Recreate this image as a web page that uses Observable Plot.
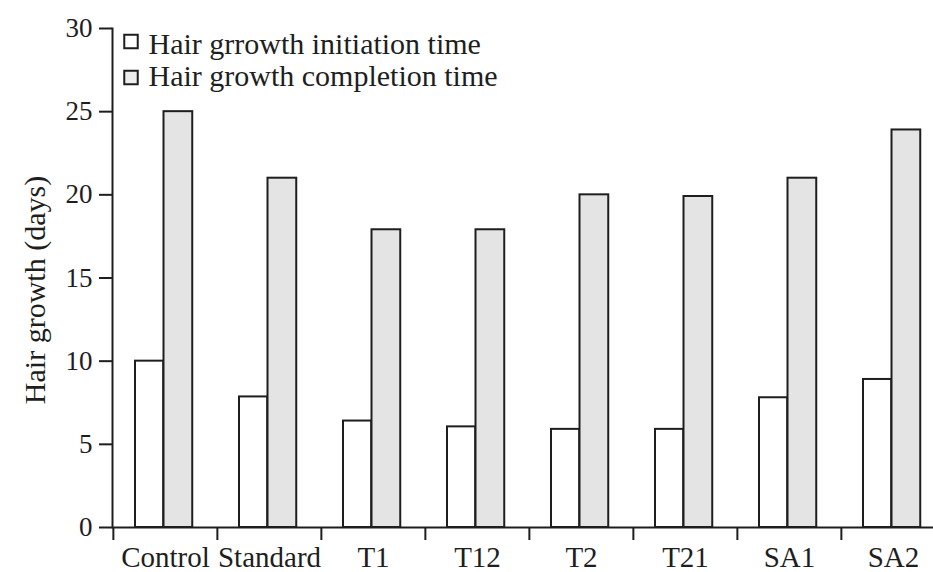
<!DOCTYPE html>
<html>
<head>
<meta charset="utf-8">
<script src="https://cdn.jsdelivr.net/npm/d3@7"></script>
<script src="https://cdn.jsdelivr.net/npm/@observablehq/plot@0.6"></script>
<style>
  html, body { margin: 0; padding: 0; background: white; overflow: hidden; }
  #chart { width: 933px; height: 572px; overflow: hidden; }
  #chart svg, #chart svg text { font-family: "Liberation Serif", "Times New Roman", Times, serif !important; }
</style>
</head>
<body>
<div id="chart"></div>
<script>
const categories = ["Control", "Standard", "T1", "T12", "T2", "T21", "SA1", "SA2"];
const initiation = [10, 7.85, 6.4, 6.05, 5.9, 5.9, 7.8, 8.9];
const completion = [25, 21, 17.9, 17.9, 20, 19.9, 21, 23.9];
const series = ["Hair grrowth initiation time", "Hair growth completion time"];
const seriesFill = ["white", "#e4e4e4"];
const yTicks = [0, 5, 10, 15, 20, 25, 30];
const yLabel = "Hair growth (days)";

const rows = categories.flatMap((c, i) => [
  {category: c, series: series[0], value: initiation[i]},
  {category: c, series: series[1], value: completion[i]}
]);

const W = 933, H = 572;
const mL = 112, mR = -13, mT = 28, mB = 45;
const bw = (W - mL - mR) / categories.length;
const ink = "#1e1e1e";
const sw = 2;

const plot = Plot.plot({
  width: W,
  height: H,
  marginLeft: mL,
  marginRight: mR,
  marginTop: mT,
  marginBottom: mB,
  style: {fontFamily: "Liberation Serif, Times New Roman, serif", fontSize: "28px", color: ink, background: "white", overflow: "visible"},
  x: {domain: categories, padding: 0, label: null},
  y: {domain: [0, 30], label: null},
  marks: [
    Plot.barY(rows.filter(d => d.series === series[0]), {
      x: "category", y: "value", fill: seriesFill[0], stroke: ink, strokeWidth: sw,
      insetLeft: 22, insetRight: bw - 50.5
    }),
    Plot.barY(rows.filter(d => d.series === series[1]), {
      x: "category", y: "value", fill: seriesFill[1], stroke: ink, strokeWidth: sw,
      insetLeft: 50.5, insetRight: bw - 79.5
    }),
    Plot.ruleY([0], {stroke: ink, strokeWidth: sw}),
    Plot.frame({anchor: "left", stroke: ink, strokeWidth: sw}),
    Plot.axisY({ticks: yTicks, tickSize: 13, tickPadding: 7, fontSize: 27, strokeWidth: sw, stroke: ink, label: null}),
    Plot.axisX({tickSize: 13, dx: -bw / 2, tickFormat: () => "", strokeWidth: sw, stroke: ink, label: null}),
    Plot.axisX({tickSize: 0, tickPadding: 19, fontSize: 29, label: null}),
    Plot.text([yLabel], {text: d => d, frameAnchor: "left", textAnchor: "middle", lineAnchor: "middle", rotate: -90, dx: -77.5, dy: 12, fontSize: 30, fill: ink}),
    ...series.map((s, i) => Plot.dot([s], {frameAnchor: "top-left", symbol: "square", r: 7.6, dx: 18.5, dy: 13 + 36 * i, fill: seriesFill[i] === "white" ? "white" : "#eeeeee", stroke: ink, strokeWidth: sw})),
    ...series.map((s, i) => Plot.text([s], {text: d => d, frameAnchor: "top-left", textAnchor: "start", lineAnchor: "middle", dx: 36, dy: 16 + 32 * i, fontSize: 30, fill: ink}))
  ]
});
document.getElementById("chart").appendChild(plot);
</script>
</body>
</html>
